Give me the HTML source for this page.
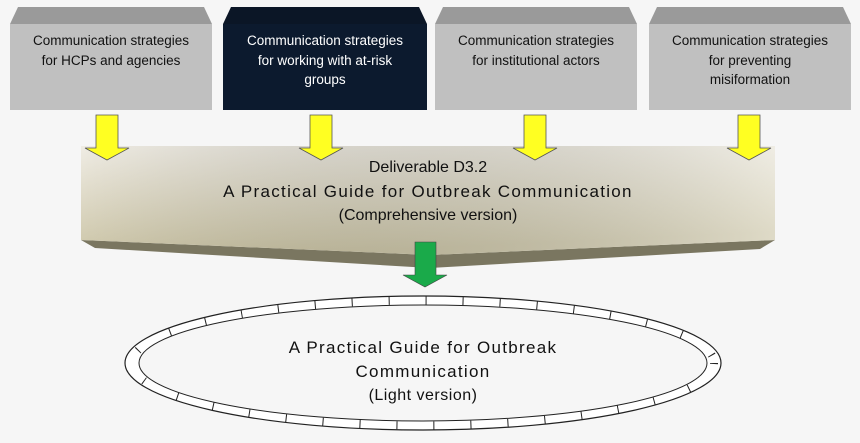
<!DOCTYPE html>
<html><head><style>body{margin:0;background:#f6f6f6}</style></head><body>
<svg width="860" height="438" viewBox="0 0 860 438" xmlns="http://www.w3.org/2000/svg" font-family="Liberation Sans, sans-serif">
<defs>
<linearGradient id="band" x1="0" y1="0" x2="0.3" y2="1"><stop offset="0" stop-color="#efece4"/><stop offset="1" stop-color="#c9c2a2"/></linearGradient>
<linearGradient id="bandR" x1="0" y1="0" x2="1" y2="0"><stop offset="0" stop-color="#000" stop-opacity="0"/><stop offset="1" stop-color="#fff" stop-opacity="0.4"/></linearGradient>
</defs>
<rect width="860" height="438" fill="#f6f6f6"/>
<g>
<polygon points="10,24 18,7 204,7 212,24" fill="#9a9a9a"/><rect x="10" y="24" width="202" height="86" fill="#c0c0c0"/>
<polygon points="223,24 231,7 419,7 427,24" fill="#0b1626"/><rect x="223" y="24" width="204" height="86" fill="#0c1a2e"/>
<polygon points="435,24 443,7 629,7 637,24" fill="#9a9a9a"/><rect x="435" y="24" width="202" height="86" fill="#c0c0c0"/>
<polygon points="649,24 657,7 843,7 851,24" fill="#9a9a9a"/><rect x="649" y="24" width="202" height="86" fill="#c0c0c0"/>
</g>
<g font-size="13.5" text-anchor="middle">
<text x="111" y="45" fill="#111">Communication strategies</text><text x="111" y="65" fill="#111">for HCPs and agencies</text>
<text x="325" y="45" fill="#fff">Communication strategies</text><text x="325" y="65" fill="#fff">for working with at-risk</text><text x="325" y="84" fill="#fff">groups</text>
<text x="536" y="45" fill="#111">Communication strategies</text><text x="536" y="65" fill="#111">for institutional actors</text>
<text x="750" y="45" fill="#111">Communication strategies</text><text x="750" y="65" fill="#111">for preventing</text><text x="750" y="84" fill="#111">misiformation</text>
</g>
<polygon points="81,240 430,255 775,240 760,249 430,268 95,248" fill="#7a7660"/>
<polygon points="81,146 775,146 775,240 430,255 81,240" fill="url(#band)"/>
<polygon points="81,146 775,146 775,240 430,255 81,240" fill="url(#bandR)"/>
<g fill="#ffff22" stroke="#555" stroke-width="0.8">
<polygon points="96,115 118,115 118,148 129,148 107,160 85,148 96,148"/>
<polygon points="310,115 332,115 332,148 343,148 321,160 299,148 310,148"/>
<polygon points="524,115 546,115 546,148 557,148 535,160 513,148 524,148"/>
<polygon points="738,115 760,115 760,148 771,148 749,160 727,148 738,148"/>
</g>
<g text-anchor="middle" fill="#111">
<text x="428" y="172" font-size="16">Deliverable D3.2</text>
<text x="428" y="197" font-size="17" letter-spacing="1.3">A Practical Guide for Outbreak Communication</text>
<text x="428" y="220" font-size="16">(Comprehensive version)</text>
</g>
<polygon points="415,242 436,242 436,275 447,275 425,287 403,275 415,275" fill="#1aaa4a" stroke="#444" stroke-width="0.6"/>
<ellipse cx="423" cy="363" rx="298" ry="67" fill="#fff" stroke="#222" stroke-width="1.2"/>
<ellipse cx="423" cy="363" rx="291" ry="62.5" fill="none" stroke="#222" stroke-width="8" stroke-dasharray="1 36"/>
<ellipse cx="423" cy="363" rx="284" ry="58" fill="#f6f6f6" stroke="#222" stroke-width="1"/>
<g text-anchor="middle" fill="#111" font-size="17" letter-spacing="1.3">
<text x="423" y="353">A Practical Guide for Outbreak</text>
<text x="423" y="377">Communication</text>
<text x="423" y="400" font-size="16" letter-spacing="0.5">(Light version)</text>
</g>
</svg>
</body></html>
